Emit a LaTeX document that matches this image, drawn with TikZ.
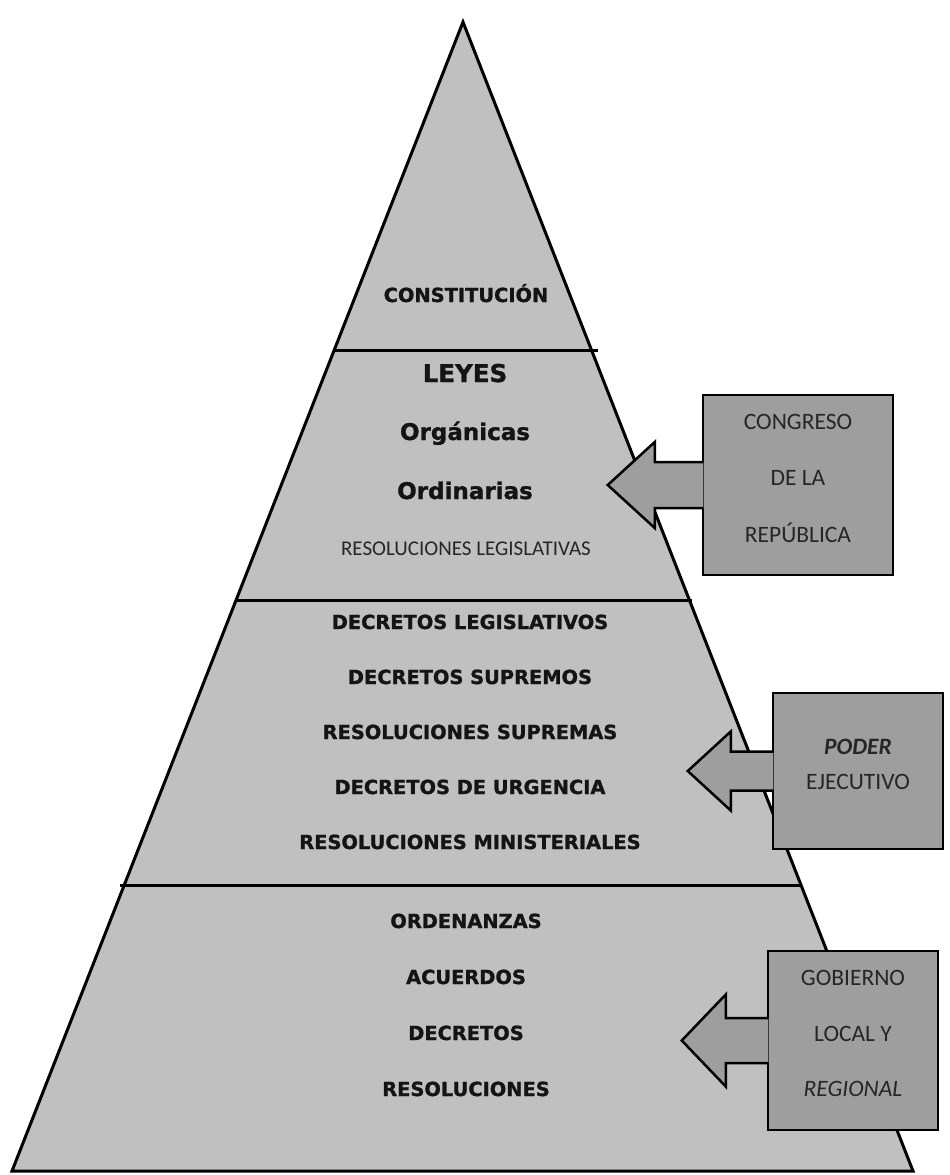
\documentclass[tikz,border=0pt]{standalone}
\usepackage{fontspec}
\setmainfont{Carlito}
\newfontfamily\wideface{DejaVu Sans Bold}[FakeBold=1.2]
\usetikzlibrary{calc,positioning}
\definecolor{pyrgray}{RGB}{192,192,192}
\definecolor{boxgray}{RGB}{158,158,158}
\tikzset{
  level/.style={anchor=base, font=\wideface\fontsize{19.4}{21}\selectfont, text=black!92},
  bigrank/.style={anchor=base, font=\wideface\fontsize{23}{25}\selectfont, text=black!92},
  plainrank/.style={anchor=base, font=\fontsize{21}{23}\selectfont, text=black!85},
  authority/.style={draw, line width=2.5pt, fill=boxgray, align=center, inner sep=0pt,
    text=black!85, text depth=14pt},
  blockarrow/.style={draw, line width=2.5pt, fill=boxgray, line join=miter},
  divider/.style={line width=3pt},
}

\begin{document}
\begin{tikzpicture}[x=1pt,y=-1pt]
    \useasboundingbox (0,0) rectangle (950,1175);
    % Pyramid
    \coordinate (apex) at (463,22);
    \coordinate (baseL) at (12,1171);
    \coordinate (baseR) at (913,1171);
    \draw[line width=3pt, fill=pyrgray, line join=miter] (apex) -- (baseL) -- (baseR) -- cycle;
    \draw[divider] (333,350) -- (598,350);
    \draw[divider] (237,600) -- (692,600);
    \draw[divider] (120,885) -- (800,885);
    % Top level
    \node[level] (constitucion) at (466,302) {CONSTITUCIÓN};
    % Laws
    \node[bigrank, font=\wideface\fontsize{24.5}{26}\selectfont] (leyes) at (465,382) {LEYES};
    \node[bigrank] (organicas) at (465,440) {Orgánicas};
    \node[bigrank] (ordinarias) at (465,499) {Ordinarias};
    \node[plainrank] (reslegis) at (466,555) {RESOLUCIONES LEGISLATIVAS};
    % Executive norms
    \foreach \txt [count=\i] in {DECRETOS LEGISLATIVOS, DECRETOS SUPREMOS,
        RESOLUCIONES SUPREMAS, DECRETOS DE URGENCIA, RESOLUCIONES MINISTERIALES} {
      \node[level] (ejec\i) at (470,574+55*\i) {\txt};
    }
    % Local norms
    \foreach \txt [count=\i] in {ORDENANZAS, ACUERDOS, DECRETOS, RESOLUCIONES} {
      \node[level] (local\i) at (466,872+56*\i) {\txt};
    }
    % Authorities
    \node[authority, minimum width=190, minimum height=180,
          font=\fontsize{23.5}{56.5}\selectfont] (congreso) at (798,485)
         {CONGRESO\\DE LA\\REPÚBLICA};
    \node[authority, minimum width=170, minimum height=156,
          font=\fontsize{23.5}{35}\selectfont] (ejecutivo) at (858,771)
         {\textbf{\textit{PODER}}\\EJECUTIVO};
    \node[authority, minimum width=170, minimum height=179,
          font=\fontsize{23.5}{55.5}\selectfont] (gobierno) at (853,1040.5)
         {GOBIERNO\\LOCAL Y\\\textit{REGIONAL}};
    % Arrows to the pyramid
    \draw[blockarrow] ($(congreso.west)+(1.5,-23)$) -- ++(-48.5,0) -- ++(0,-20)
         -- ++(-47,43) -- ++(47,43) -- ++(0,-20) -- ++(48.5,0);
    \draw[blockarrow] ($(ejecutivo.west)+(1.5,-19.5)$) -- ++(-42.5,0) -- ++(0,-20)
         -- ++(-43,39.5) -- ++(43,39.5) -- ++(0,-20) -- ++(42.5,0);
    \draw[blockarrow] ($(gobierno.west)+(1.5,-22.5)$) -- ++(-42.5,0) -- ++(0,-23.5)
         -- ++(-44,46) -- ++(44,46) -- ++(0,-23.5) -- ++(42.5,0);
\end{tikzpicture}
\end{document}
